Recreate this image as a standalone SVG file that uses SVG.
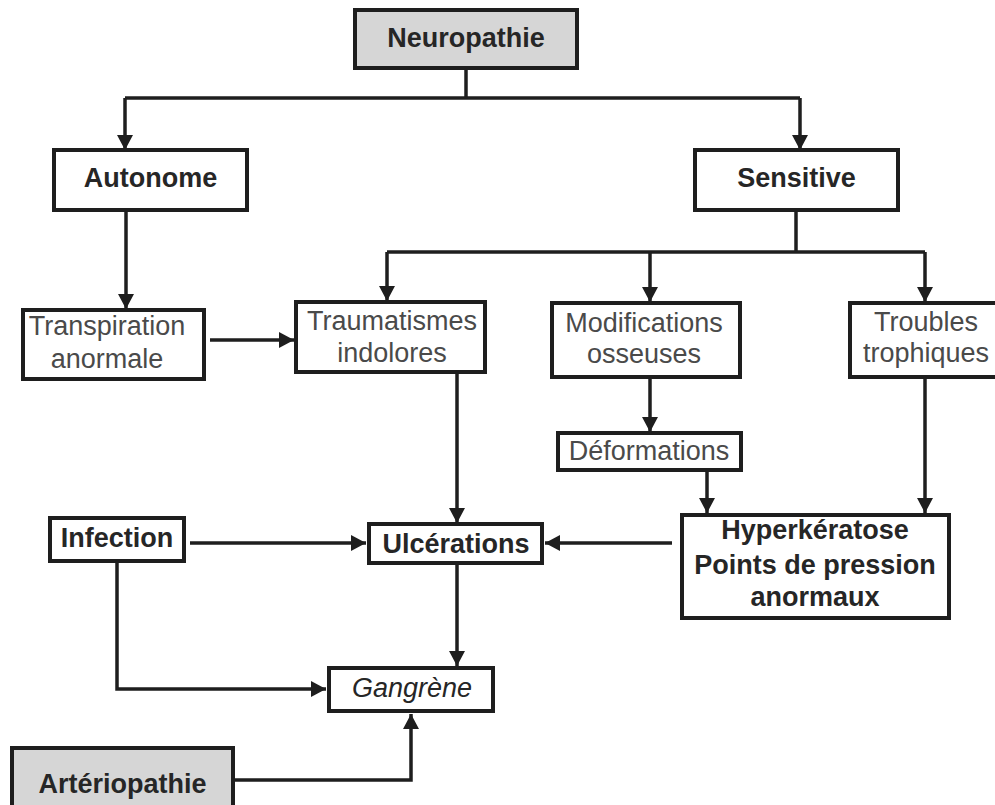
<svg xmlns="http://www.w3.org/2000/svg" width="995" height="805" viewBox="0 0 995 805">
  <style>
    .box { fill: #ffffff; stroke: #1e1e1e; stroke-width: 4; }
    .grey { fill: #d6d6d6; }
    .b { font-family: "Liberation Sans", Arial, sans-serif; font-size: 27px; font-weight: bold; fill: #262626; text-anchor: middle; }
    .r { font-family: "Liberation Sans", Arial, sans-serif; font-size: 27px; fill: #4a4a4a; text-anchor: middle; }
    .i { font-family: "Liberation Sans", Arial, sans-serif; font-size: 27px; font-style: italic; fill: #262626; text-anchor: middle; }
    .link { fill: none; stroke: #1e1e1e; stroke-width: 3.5; }
  </style>
  <defs>
    <marker id="arrow" markerUnits="userSpaceOnUse" markerWidth="16" markerHeight="16" refX="15" refY="8" orient="auto">
      <path d="M0,0 L15,8 L0,16 z" fill="#1e1e1e"/>
    </marker>
  </defs>
  <rect width="995" height="805" fill="#ffffff"/>

  <g id="connectors">
    <path class="link" d="M466,68 V98"/>
    <path class="link" d="M125,98 H800"/>
    <path class="link" d="M125,98 V150" marker-end="url(#arrow)"/>
    <path class="link" d="M800,98 V150" marker-end="url(#arrow)"/>
    <path class="link" d="M126,210 V309" marker-end="url(#arrow)"/>
    <path class="link" d="M796,210 V252"/>
    <path class="link" d="M387,252 H925"/>
    <path class="link" d="M387,252 V301" marker-end="url(#arrow)"/>
    <path class="link" d="M650,252 V302" marker-end="url(#arrow)"/>
    <path class="link" d="M925,252 V302" marker-end="url(#arrow)"/>
    <path class="link" d="M210,340 H294" marker-end="url(#arrow)"/>
    <path class="link" d="M457,372 V523" marker-end="url(#arrow)"/>
    <path class="link" d="M650,377 V432" marker-end="url(#arrow)"/>
    <path class="link" d="M707,470 V513" marker-end="url(#arrow)"/>
    <path class="link" d="M925,377 V513" marker-end="url(#arrow)"/>
    <path class="link" d="M672,543 H545" marker-end="url(#arrow)"/>
    <path class="link" d="M190,543 H366" marker-end="url(#arrow)"/>
    <path class="link" d="M117,561 V689 H326" marker-end="url(#arrow)"/>
    <path class="link" d="M457,563 V666" marker-end="url(#arrow)"/>
    <path class="link" d="M233,780 H411 V714" marker-end="url(#arrow)"/>
  </g>

  <g id="neuropathie">
    <rect class="box grey" x="355" y="10" width="222" height="58"/>
    <text class="b" x="466" y="47">Neuropathie</text>
  </g>
  <g id="autonome">
    <rect class="box" x="54" y="150" width="193" height="60"/>
    <text class="b" x="150.5" y="187">Autonome</text>
  </g>
  <g id="sensitive">
    <rect class="box" x="695" y="150" width="203" height="60"/>
    <text class="b" x="796.5" y="187">Sensitive</text>
  </g>
  <g id="transpiration">
    <rect class="box" x="23" y="310" width="181" height="69"/>
    <text class="r" x="107" y="335">Transpiration</text>
    <text class="r" x="107" y="368">anormale</text>
  </g>
  <g id="traumatismes">
    <rect class="box" x="296" y="302" width="189" height="70"/>
    <text class="r" x="392" y="330">Traumatismes</text>
    <text class="r" x="392" y="362">indolores</text>
  </g>
  <g id="modifications">
    <rect class="box" x="552" y="303" width="188" height="74"/>
    <text class="r" x="644" y="332">Modifications</text>
    <text class="r" x="644" y="363">osseuses</text>
  </g>
  <g id="troubles">
    <!-- right edge runs past the canvas border -->
    <rect class="box" x="850" y="303" width="156" height="74"/>
    <text class="r" x="926" y="331">Troubles</text>
    <text class="r" x="926" y="362">trophiques</text>
  </g>
  <g id="deformations">
    <rect class="box" x="558" y="433" width="183" height="37"/>
    <text class="r" x="649" y="460">Déformations</text>
  </g>
  <g id="infection">
    <rect class="box" x="50" y="518" width="134" height="43"/>
    <text class="b" x="117" y="547">Infection</text>
  </g>
  <g id="ulcerations">
    <rect class="box" x="369" y="524" width="173" height="39"/>
    <text class="b" x="456" y="553">Ulcérations</text>
  </g>
  <g id="hyperkeratose">
    <rect class="box" x="682" y="515" width="267" height="103"/>
    <text class="b" x="815" y="539">Hyperkératose</text>
    <text class="b" x="815" y="574">Points de pression</text>
    <text class="b" x="815" y="606">anormaux</text>
  </g>
  <g id="gangrene">
    <rect class="box" x="329" y="668" width="164" height="43"/>
    <text class="i" x="412" y="697">Gangrène</text>
  </g>
  <g id="arteriopathie">
    <rect class="box grey" x="12" y="748" width="221" height="62"/>
    <text class="b" x="122.5" y="793">Artériopathie</text>
  </g>
</svg>
